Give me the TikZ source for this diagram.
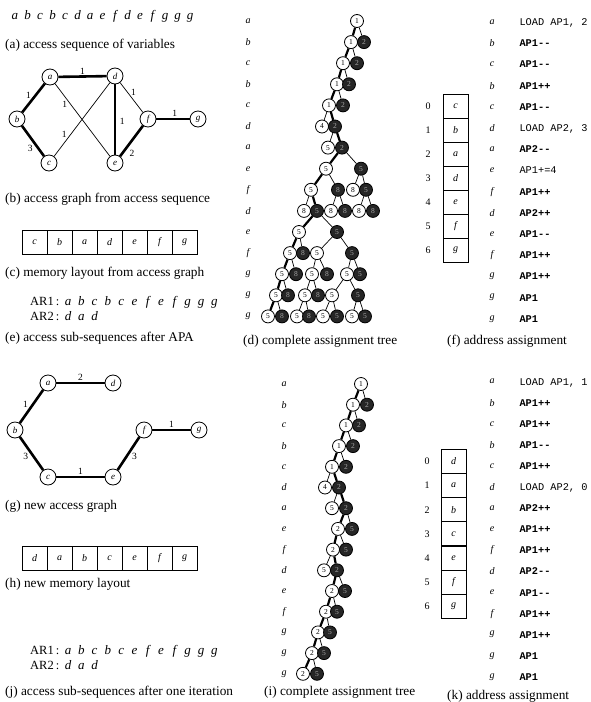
\documentclass[tikz,border=0pt]{standalone}
\usepackage{fontspec}
\setmainfont{Liberation Serif}
\setmonofont{Liberation Mono}
\newcommand\mm{-\kern0pt-}
\begin{document}
\begin{tikzpicture}[x=1pt,y=-1pt,
  gv/.style={circle,draw,line width=0.8pt,minimum size=16pt,inner sep=0pt,fill=white,
             font=\fontsize{9}{9}\selectfont\itshape},
  heavy/.style={line width=2.6pt},
  light/.style={line width=0.7pt},
  wlab/.style={font=\fontsize{9.5}{9.5}\selectfont,inner sep=1.5pt},
  tw/.style={circle,draw,line width=0.8pt,minimum size=13pt,inner sep=0pt,fill=white,
             font=\fontsize{7.5}{7.5}\selectfont},
  td/.style={tw,fill=black!85,text=black!35},
  tedge/.style={line width=0.7pt},
  tpath/.style={line width=2.2pt},
  rowlab/.style={font=\fontsize{10}{10}\selectfont\itshape},
  instr/.style={anchor=base west,font=\fontsize{10.3}{10.3}\selectfont\ttfamily\bfseries},
  instrn/.style={anchor=base west,font=\fontsize{10.3}{10.3}\selectfont\ttfamily},
  memcell/.style={draw,line width=0.8pt,minimum width=25pt,minimum height=24pt,inner sep=0pt,
                  outer sep=0pt,font=\fontsize{10}{10}\selectfont\itshape},
  idx/.style={font=\fontsize{10}{10}\selectfont},
  seqletter/.style={anchor=base,font=\fontsize{13}{13}\selectfont\itshape,inner sep=0pt},
  captxt/.style={anchor=base west,font=\fontsize{13.3}{13.3}\selectfont,inner sep=0pt}]
\useasboundingbox (0,0) rectangle (590,702);

% ---------- (a) access sequence ----------
\foreach \v [count=\i from 0] in {a,b,c,b,c,d,a,e,f,d,e,f,g,g,g}
  \node[seqletter] (s\i) at ({15+12.5*\i},19) {\v};
\node[captxt] (capa) at (5,48) {(a) access sequence of variables};

% ---------- (b) access graph ----------
\node[gv] (ba) at (50,77) {a};
\node[gv] (bd) at (115,76) {d};
\node[gv] (bb) at (17,119) {b};
\node[gv] (bf) at (148,119) {f};
\node[gv] (bg) at (198,119) {g};
\node[gv] (bc) at (49,163) {c};
\node[gv] (be) at (115,163) {e};
\draw[light] (ba) -- node[wlab,pos=.29,left=2pt] {1} (be);
\draw[light] (bc) -- node[wlab,pos=.24,above left=-1pt] {1} (bd);
\draw[light] (bd) -- node[wlab,pos=.45,above right=-1pt] {1} (bf);
\draw[heavy] (ba) -- node[wlab,above=-0.5pt] {1} (bd);
\draw[heavy] (ba) -- node[wlab,pos=.4,left=2pt] {1} (bb);
\draw[heavy] (bb) -- node[wlab,pos=.75,left=3pt] {3} (bc);
\draw[heavy] (bd) -- node[wlab,pos=.53,right=2pt] {1} (be);
\draw[heavy] (be) -- node[wlab,pos=.3,below right=0pt] {2} (bf);
\draw[heavy] (bf) -- node[wlab,pos=.55,above=-0.5pt] {1} (bg);
\node[captxt] (capb) at (5,202) {(b) access graph from access sequence};

% ---------- (c) memory layout ----------
\foreach \v [count=\i from 0] in {c,b,a,d,e,f,g}
  \node[memcell] (c\i) at ({34.5+25*\i},242) {\v};
\node[captxt] (capc) at (5,276) {(c) memory layout from access graph};

% ---------- (e) sub-sequences ----------
\node[captxt,font=\fontsize{12.5}{12.5}\selectfont] (e1) at (30,305) {AR1\,:};
\foreach \v [count=\i from 0] in {a,b,c,b,c,e,f,e,f,g,g,g}
  \node[seqletter] (ea\i) at ({68+13.3*\i},305) {\v};
\node[captxt,font=\fontsize{12.5}{12.5}\selectfont] (e2) at (30,320) {AR2\,:};
\foreach \v [count=\i from 0] in {d,a,d}
  \node[seqletter] (eb\i) at ({68+13.3*\i},320) {\v};
\node[captxt] (cape) at (5,341) {(e) access sub-sequences after APA};

% ---------- (d) complete assignment tree ----------
\foreach \v [count=\i from 0] in {a,b,c,b,c,d,a,e,f,d,e,f,g,g,g}
  \node[rowlab] (dl\i) at (248,{21+21.1*\i}) {\v};
\node[tw] (d0) at (357,21) {1};
\node[tw] (d1w) at (351,42.1) {1};   \node[td] (d1d) at (364,42.1) {2};
\node[tw] (d2w) at (343,63.2) {1};   \node[td] (d2d) at (357,63.2) {2};
\node[tw] (d3w) at (337,84.3) {1};   \node[td] (d3d) at (349,84.3) {2};
\node[tw] (d4w) at (329,105.4) {1};  \node[td] (d4d) at (343,105.4) {2};
\node[tw] (d5w) at (322,126.5) {4};  \node[td] (d5d) at (335,126.5) {2};
\node[tw] (d6w) at (328,147.6) {5};  \node[td] (d6d) at (342,147.6) {2};
\node[tw] (d7w) at (326,168.7) {5};  \node[td] (d7d) at (361,168.7) {5};
\node[tw] (d8a) at (311,189.8) {5};  \node[td] (d8b) at (338,189.8) {8};
\node[tw] (d8c) at (353,189.8) {8};  \node[td] (d8d) at (366,189.8) {5};
\node[tw] (d9a) at (304,210.9) {8};  \node[td] (d9b) at (317,210.9) {5};
\node[tw] (d9c) at (331,210.9) {8};  \node[td] (d9d) at (345,210.9) {8};
\node[tw] (d9e) at (359,210.9) {8};  \node[td] (d9f) at (373,210.9) {8};
\node[tw] (d10a) at (299,232) {5};   \node[td] (d10b) at (337,232) {5};
\node[tw] (d11a) at (290,253.1) {5}; \node[td] (d11b) at (303,253.1) {8};
\node[tw] (d11c) at (317,253.1) {5}; \node[td] (d11d) at (352,253.1) {5};
\node[tw] (d12a) at (282,274.2) {5}; \node[td] (d12b) at (296,274.2) {8};
\node[tw] (d12c) at (312,274.2) {5}; \node[td] (d12d) at (327,274.2) {8};
\node[tw] (d12e) at (347,274.2) {5}; \node[td] (d12f) at (360,274.2) {5};
\node[tw] (d13a) at (276,295.3) {5}; \node[td] (d13b) at (288,295.3) {8};
\node[tw] (d13c) at (305,295.3) {5}; \node[td] (d13d) at (318,295.3) {8};
\node[tw] (d13e) at (332,295.3) {5}; \node[td] (d13f) at (358,295.3) {5};
\node[tw] (d14a) at (268,316.4) {5}; \node[td] (d14b) at (282,316.4) {8};
\node[tw] (d14c) at (297,316.4) {5}; \node[td] (d14d) at (309,316.4) {8};
\node[tw] (d14e) at (323,316.4) {5}; \node[td] (d14f) at (337,316.4) {5};
\node[tw] (d14g) at (352,316.4) {5}; \node[td] (d14h) at (365,316.4) {5};
\foreach \p/\c in {d0/d1d,d1w/d2d,d2w/d3d,d3w/d4d,d4w/d5w,d5d/d6w,d6d/d7d,
                   d7w/d8b,d7d/d8c,d7d/d8d,d8a/d9a,d8b/d9c,d8b/d9d,d8d/d9e,d8d/d9f,
                   d9b/d10b,d10a/d11b,d10b/d11c,d10b/d11d,d11a/d12b,d11c/d12c,d11c/d12d,
                   d11d/d12e,d11d/d12f,d12a/d13b,d12c/d13c,d12c/d13d,d12e/d13e,d12e/d13f,
                   d13a/d14b,d13c/d14c,d13c/d14d,d13e/d14e,d13e/d14f,d13f/d14g,d13f/d14h}
  \draw[tedge] (\p) -- (\c);
\foreach \p/\c in {d0/d1w,d1w/d2w,d2w/d3w,d3w/d4w,d4w/d5d,d5d/d6d,d6d/d7w,d7w/d8a,
                   d8a/d9b,d9b/d10a,d10a/d11a,d11a/d12a,d12a/d13a,d13a/d14a}
  \draw[tpath] (\p) -- (\c);
\node[captxt] (capd) at (243,344) {(d) complete assignment tree};

% ---------- (f) address assignment ----------
\foreach \v [count=\i from 0] in {c,b,a,d,e,f,g}{
  \node[memcell] (f\i) at (455.5,{106+24*\i}) {\v};
  \node[idx] (fn\i) at (428,{106+24*\i}) {\i};
}
\foreach \v/\ins/\st [count=\i from 0] in
  {a/{LOAD AP1, 2}/instrn, b/{AP1\mm}/instr, c/{AP1\mm}/instr, b/{AP1++}/instr,
   c/{AP1\mm}/instr, d/{LOAD AP2, 3}/instrn, a/{AP2\mm}/instr, e/{AP1+=4}/instrn,
   f/{AP1++}/instr, d/{AP2++}/instr, e/{AP1\mm}/instr, f/{AP1++}/instr,
   g/{AP1++}/instr, g/{AP1}/instr, g/{AP1}/instr}{
  \node[rowlab] (fl\i) at (492,{22+21.2*\i}) {\v};
  \node[\st] (fi\i) at (516,{25.5+21.2*\i}) {\ins};
}
\node[captxt] (capf) at (447,344) {(f) address assignment};

% ---------- (g) new access graph ----------
\node[gv] (ga) at (48,383) {a};
\node[gv] (gd) at (113,383) {d};
\node[gv] (gb) at (15,430) {b};
\node[gv] (gf) at (144,430) {f};
\node[gv] (gg) at (199,430) {g};
\node[gv] (gc) at (48,477) {c};
\node[gv] (ge) at (113,477) {e};
\draw[heavy] (ga) -- node[wlab,above=-0.5pt] {2} (gd);
\draw[heavy] (ga) -- node[wlab,pos=.45,left=2pt] {1} (gb);
\draw[heavy] (gb) -- node[wlab,pos=.6,left=3pt] {3} (gc);
\draw[heavy] (gc) -- node[wlab,above=-0.5pt] {1} (ge);
\draw[heavy] (ge) -- node[wlab,pos=.4,right=3pt] {3} (gf);
\draw[heavy] (gf) -- node[wlab,above=-0.5pt] {1} (gg);
\node[captxt] (capg) at (5,509) {(g) new access graph};

% ---------- (h) new memory layout ----------
\foreach \v [count=\i from 0] in {d,a,b,c,e,f,g}
  \node[memcell] (h\i) at ({34.5+25*\i},558) {\v};
\node[captxt] (caph) at (5,587) {(h) new memory layout};

% ---------- (j) sub-sequences after one iteration ----------
\node[captxt,font=\fontsize{12.5}{12.5}\selectfont] (j1) at (30,654) {AR1\,:};
\foreach \v [count=\i from 0] in {a,b,c,b,c,e,f,e,f,g,g,g}
  \node[seqletter] (ja\i) at ({68+13.3*\i},654) {\v};
\node[captxt,font=\fontsize{12.5}{12.5}\selectfont] (j2) at (30,669) {AR2\,:};
\foreach \v [count=\i from 0] in {d,a,d}
  \node[seqletter] (jb\i) at ({68+13.3*\i},669) {\v};
\node[captxt] (capj) at (5,695) {(j) access sub-sequences after one iteration};

% ---------- (i) complete assignment tree ----------
\foreach \v [count=\i from 0] in {a,b,c,b,c,d,a,e,f,d,e,f,g,g,g}
  \node[rowlab] (il\i) at (284,{384+20.7*\i}) {\v};
\node[tw] (i0) at (361,384) {1};
\node[tw] (i1w) at (353,404.7) {1};  \node[td] (i1d) at (367,404.7) {2};
\node[tw] (i2w) at (346,425.4) {1};  \node[td] (i2d) at (359,425.4) {2};
\node[tw] (i3w) at (339,446.1) {1};  \node[td] (i3d) at (353,446.1) {2};
\node[tw] (i4w) at (332,466.8) {1};  \node[td] (i4d) at (346,466.8) {2};
\node[tw] (i5w) at (325,487.5) {4};  \node[td] (i5d) at (339,487.5) {2};
\node[tw] (i6w) at (332,508.2) {5};  \node[td] (i6d) at (346,508.2) {2};
\node[tw] (i7w) at (338,528.9) {2};  \node[td] (i7d) at (352,528.9) {5};
\node[tw] (i8w) at (333,549.6) {2};  \node[td] (i8d) at (346,549.6) {5};
\node[tw] (i9w) at (324,570.3) {5};  \node[td] (i9d) at (337,570.3) {2};
\node[tw] (i10w) at (332,591) {2};   \node[td] (i10d) at (345,591) {5};
\node[tw] (i11w) at (326,611.7) {2}; \node[td] (i11d) at (337,611.7) {5};
\node[tw] (i12w) at (318,632.4) {2}; \node[td] (i12d) at (330,632.4) {5};
\node[tw] (i13w) at (312,653.1) {2}; \node[td] (i13d) at (324,653.1) {5};
\node[tw] (i14w) at (303,673.8) {2}; \node[td] (i14d) at (317,673.8) {5};
\foreach \p/\c in {i0/i1d,i1w/i2d,i2w/i3d,i3w/i4d,i4w/i5w,i5d/i6w,i6d/i7d,i7w/i8d,
                   i8w/i9w,i9d/i10d,i10w/i11d,i11w/i12d,i12w/i13d,i13w/i14d}
  \draw[tedge] (\p) -- (\c);
\foreach \p/\c in {i0/i1w,i1w/i2w,i2w/i3w,i3w/i4w,i4w/i5d,i5d/i6d,i6d/i7w,i7w/i8w,
                   i8w/i9d,i9d/i10w,i10w/i11w,i11w/i12w,i12w/i13w,i13w/i14w}
  \draw[tpath] (\p) -- (\c);
\node[captxt] (capi) at (264,695) {(i) complete assignment tree};

% ---------- (k) address assignment ----------
\foreach \v [count=\i from 0] in {d,a,b,c,e,f,g}{
  \node[memcell] (k\i) at (453.5,{461.5+24.1*\i}) {\v};
  \node[idx] (kn\i) at (427,{461.5+24.1*\i}) {\i};
}
\foreach \v/\ins/\st [count=\i from 0] in
  {a/{LOAD AP1, 1}/instrn, b/{AP1++}/instr, c/{AP1++}/instr, b/{AP1\mm}/instr,
   c/{AP1++}/instr, d/{LOAD AP2, 0}/instrn, a/{AP2++}/instr, e/{AP1++}/instr,
   f/{AP1++}/instr, d/{AP2\mm}/instr, e/{AP1\mm}/instr, f/{AP1++}/instr,
   g/{AP1++}/instr, g/{AP1}/instr, g/{AP1}/instr}{
  \node[rowlab] (kl\i) at (492,{381.5+21.1*\i}) {\v};
  \node[\st] (ki\i) at (516,{385+21.1*\i}) {\ins};
}
\node[captxt] (capk) at (447,699) {(k) address assignment};
\end{tikzpicture}
\end{document}
